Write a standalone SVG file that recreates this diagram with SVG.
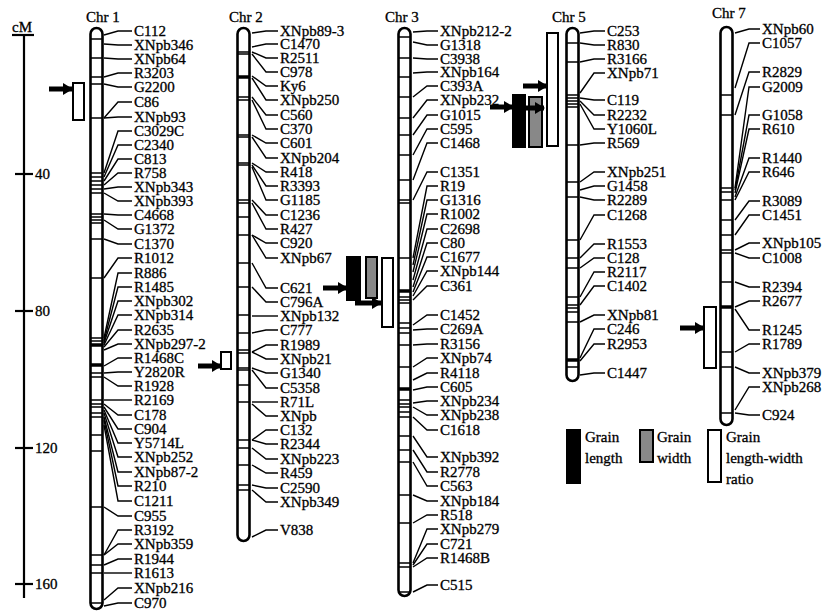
<svg xmlns="http://www.w3.org/2000/svg" width="830" height="612" viewBox="0 0 830 612">
<defs>
<style>
text{font-family:"Liberation Serif","Times New Roman",serif;font-size:15px;fill:#000;stroke:#000;stroke-width:0.3}
.chr{fill:#fff;stroke:#000;stroke-width:2.6}
.bd{stroke:#000;stroke-width:1.4}
.tk{stroke:#000;stroke-width:3.5}
.cn polyline{fill:none;stroke:#000;stroke-width:1.4}
.ar{stroke:#000;stroke-width:5;marker-end:url(#ah)}
.bw{fill:#fff;stroke:#000;stroke-width:2}
.bg{fill:#888;stroke:#000;stroke-width:2}
.bk{fill:#000;stroke:#000;stroke-width:2}
.ax{stroke:#000;stroke-width:2.2;fill:none}
</style>
<marker id="ah" markerUnits="userSpaceOnUse" markerWidth="10" markerHeight="12" refX="9" refY="6" orient="auto">
<path d="M0,0 L10,6 L0,12 Z" fill="#000"/>
</marker>
</defs>
<rect width="830" height="612" fill="#fff"/>

<g id="scale">
<text x="12" y="32">cM</text>
<line class="ax" x1="12" y1="35" x2="34" y2="35"/>
<line class="ax" x1="24" y1="35" x2="24" y2="598"/>
<line class="ax" x1="15" y1="174" x2="33" y2="174"/>
<line class="ax" x1="15" y1="311" x2="33" y2="311"/>
<line class="ax" x1="15" y1="448" x2="33" y2="448"/>
<line class="ax" x1="15" y1="584" x2="33" y2="584"/>
<text x="35" y="179">40</text>
<text x="35" y="316">80</text>
<text x="35" y="453">120</text>
<text x="35" y="589">160</text>
</g>

<g id="chr1">
<text x="86" y="22">Chr 1</text>
<rect class="chr" x="90.5" y="28" width="12" height="581" rx="6"/>
<path class="bd" d="M90,39H103M90,58H103M90,77H103M90,84H103M90,118H103M90,173H103M90,177H103M90,181H103M90,185H103M90,189H103M90,193H103M90,214H103M90,217H103M90,220H103M90,223H103M90,239H103M90,278H103M90,338H103M90,341H103M90,373H103M90,377H103M90,400H103M90,404H103M90,407H103M90,413H103M90,417H103M90,435H103M90,451H103M90,507H103M90,555H103M90,565H103M90,573H103M90,603H103"/>
<path class="tk" d="M90,345H103M90,365H103"/>
<text x="134" y="36">C112</text>
<text x="134" y="50">XNpb346</text>
<text x="134" y="64">XNpb64</text>
<text x="134" y="78">R3203</text>
<text x="134" y="92">G2200</text>
<text x="134" y="107">C86</text>
<text x="134" y="122">XNpb93</text>
<text x="134" y="136">C3029C</text>
<text x="134" y="150">C2340</text>
<text x="134" y="164">C813</text>
<text x="134" y="178">R758</text>
<text x="134" y="192">XNpb343</text>
<text x="134" y="206">XNpb393</text>
<text x="134" y="220">C4668</text>
<text x="134" y="234">G1372</text>
<text x="134" y="249">C1370</text>
<text x="134" y="263">R1012</text>
<text x="134" y="278">R886</text>
<text x="134" y="292">R1485</text>
<text x="134" y="306">XNpb302</text>
<text x="134" y="320">XNpb314</text>
<text x="134" y="335">R2635</text>
<text x="134" y="349">XNpb297-2</text>
<text x="134" y="363">R1468C</text>
<text x="134" y="377">Y2820R</text>
<text x="134" y="391">R1928</text>
<text x="134" y="405">R2169</text>
<text x="134" y="420">C178</text>
<text x="134" y="434">C904</text>
<text x="134" y="448">Y5714L</text>
<text x="134" y="462">XNpb252</text>
<text x="134" y="477">XNpb87-2</text>
<text x="134" y="491">R210</text>
<text x="134" y="506">C1211</text>
<text x="134" y="521">C955</text>
<text x="134" y="535">R3192</text>
<text x="134" y="549">XNpb359</text>
<text x="134" y="564">R1944</text>
<text x="134" y="578">R1613</text>
<text x="134" y="593">XNpb216</text>
<text x="134" y="608">C970</text>
</g>

<g id="chr2">
<text x="229" y="22">Chr 2</text>
<rect class="chr" x="237.5" y="28" width="12" height="513" rx="6"/>
<path class="bd" d="M237,52H250M237,54H250M237,97H250M237,100H250M237,135H250M237,137H250M237,163H250M237,165H250M237,200H250M237,203H250M237,217H250M237,235H250M237,263H250M237,287H250M237,315H250M237,333H250M237,350H250M237,353H250M237,368H250M237,370H250M237,385H250M237,402H250M237,440H250M237,448H250M237,465H250M237,485H250M237,490H250"/>
<path class="tk" d="M237,77H250"/>
<text x="280" y="36">XNpb89-3</text>
<text x="280" y="49">C1470</text>
<text x="280" y="63">R2511</text>
<text x="280" y="77">C978</text>
<text x="280" y="91">Ky6</text>
<text x="280" y="105">XNpb250</text>
<text x="280" y="120">C560</text>
<text x="280" y="134">C370</text>
<text x="280" y="148">C601</text>
<text x="280" y="163">XNpb204</text>
<text x="280" y="177">R418</text>
<text x="280" y="191">R3393</text>
<text x="280" y="205">G1185</text>
<text x="280" y="220">C1236</text>
<text x="280" y="234">R427</text>
<text x="280" y="248">C920</text>
<text x="280" y="263">XNpb67</text>
<text x="280" y="293">C621</text>
<text x="280" y="307">C796A</text>
<text x="280" y="321">XNpb132</text>
<text x="280" y="335">C777</text>
<text x="280" y="350">R1989</text>
<text x="280" y="364">XNpb21</text>
<text x="280" y="378">G1340</text>
<text x="280" y="393">C5358</text>
<text x="280" y="407">R71L</text>
<text x="280" y="421">XNpb</text>
<text x="280" y="435">C132</text>
<text x="280" y="449">R2344</text>
<text x="280" y="464">XNpb223</text>
<text x="280" y="478">R459</text>
<text x="280" y="493">C2590</text>
<text x="280" y="507">XNpb349</text>
<text x="280" y="535">V838</text>
</g>

<g id="chr3">
<text x="385" y="22">Chr 3</text>
<rect class="chr" x="398.5" y="28" width="12" height="568" rx="6"/>
<path class="bd" d="M398,37H411M398,58H411M398,77H411M398,97H411M398,118H411M398,135H411M398,155H411M398,180H411M398,200H411M398,203H411M398,258H411M398,297H411M398,300H411M398,303H411M398,323H411M398,328H411M398,333H411M398,345H411M398,367H411M398,400H411M398,404H411M398,407H411M398,412H411M398,417H411M398,436H411M398,450H411M398,462H411M398,495H411M398,523H411M398,563H411M398,567H411M398,592H411"/>
<path class="tk" d="M398,291H411M398,389H411"/>
<text x="440" y="36">XNpb212-2</text>
<text x="440" y="50">G1318</text>
<text x="440" y="64">C3938</text>
<text x="440" y="77">XNpb164</text>
<text x="440" y="91">C393A</text>
<text x="440" y="105">XNpb232</text>
<text x="440" y="120">G1015</text>
<text x="440" y="134">C595</text>
<text x="440" y="148">C1468</text>
<text x="440" y="177">C1351</text>
<text x="440" y="191">R19</text>
<text x="440" y="205">G1316</text>
<text x="440" y="219">R1002</text>
<text x="440" y="234">C2698</text>
<text x="440" y="248">C80</text>
<text x="440" y="262">C1677</text>
<text x="440" y="276">XNpb144</text>
<text x="440" y="291">C361</text>
<text x="440" y="320">C1452</text>
<text x="440" y="334">C269A</text>
<text x="440" y="349">R3156</text>
<text x="440" y="363">XNpb74</text>
<text x="440" y="378">R4118</text>
<text x="440" y="392">C605</text>
<text x="440" y="406">XNpb234</text>
<text x="440" y="420">XNpb238</text>
<text x="440" y="435">C1618</text>
<text x="440" y="462">XNpb392</text>
<text x="440" y="477">R2778</text>
<text x="440" y="491">C563</text>
<text x="440" y="506">XNpb184</text>
<text x="440" y="520">R518</text>
<text x="440" y="534">XNpb279</text>
<text x="440" y="549">C721</text>
<text x="440" y="563">R1468B</text>
<text x="440" y="590">C515</text>
</g>

<g id="chr5">
<text x="552" y="22">Chr 5</text>
<rect class="chr" x="566.5" y="28" width="12" height="353" rx="6"/>
<path class="bd" d="M566,43H579M566,62H579M566,95H579M566,98H579M566,101H579M566,104H579M566,107H579M566,145H579M566,182H579M566,197H579M566,240H579M566,258H579M566,268H579M566,297H579M566,305H579M566,308H579M566,312H579M566,322H579M566,367H579"/>
<path class="tk" d="M566,360H579"/>
<text x="607" y="36">C253</text>
<text x="607" y="50">R830</text>
<text x="607" y="64">R3166</text>
<text x="607" y="78">XNpb71</text>
<text x="607" y="105">C119</text>
<text x="607" y="120">R2232</text>
<text x="607" y="134">Y1060L</text>
<text x="607" y="148">R569</text>
<text x="607" y="177">XNpb251</text>
<text x="607" y="191">G1458</text>
<text x="607" y="205">R2289</text>
<text x="607" y="220">C1268</text>
<text x="607" y="249">R1553</text>
<text x="607" y="263">C128</text>
<text x="607" y="277">R2117</text>
<text x="607" y="291">C1402</text>
<text x="607" y="320">XNpb81</text>
<text x="607" y="334">C246</text>
<text x="607" y="349">R2953</text>
<text x="607" y="378">C1447</text>
</g>

<g id="chr7">
<text x="712" y="18">Chr 7</text>
<rect class="chr" x="720.5" y="27" width="12" height="398" rx="6"/>
<path class="bd" d="M720,95H733M720,115H733M720,188H733M720,192H733M720,200H733M720,220H733M720,235H733M720,250H733M720,253H733M720,282H733M720,352H733M720,367H733M720,413H733"/>
<path class="tk" d="M720,307H733"/>
<text x="762" y="34">XNpb60</text>
<text x="762" y="48">C1057</text>
<text x="762" y="77">R2829</text>
<text x="762" y="92">G2009</text>
<text x="762" y="120">G1058</text>
<text x="762" y="134">R610</text>
<text x="762" y="163">R1440</text>
<text x="762" y="177">R646</text>
<text x="762" y="206">R3089</text>
<text x="762" y="220">C1451</text>
<text x="762" y="248">XNpb105</text>
<text x="762" y="263">C1008</text>
<text x="762" y="292">R2394</text>
<text x="762" y="306">R2677</text>
<text x="762" y="335">R1245</text>
<text x="762" y="349">R1789</text>
<text x="762" y="378">XNpb379</text>
<text x="762" y="392">XNpb268</text>
<text x="762" y="420">C924</text>
</g>

<g id="connectors" class="cn">
<polyline points="104,35 118,31 132,31"/>
<polyline points="104,44 118,45 132,45"/>
<polyline points="104,58 118,59 132,59"/>
<polyline points="104,77 118,73 132,73"/>
<polyline points="104,84 118,87 132,87"/>
<polyline points="104,118 118,102 132,102"/>
<polyline points="104,118 118,117 132,117"/>
<polyline points="104,173 118,131 132,131"/>
<polyline points="104,177 118,145 132,145"/>
<polyline points="104,181 118,159 132,159"/>
<polyline points="104,185 118,173 132,173"/>
<polyline points="104,189 118,187 132,187"/>
<polyline points="104,193 118,201 132,201"/>
<polyline points="104,214 118,215 132,215"/>
<polyline points="104,220 118,229 132,229"/>
<polyline points="104,239 118,244 132,244"/>
<polyline points="104,278 118,258 132,258"/>
<polyline points="104,338 118,273 132,273"/>
<polyline points="104,341 118,287 132,287"/>
<polyline points="104,343 118,301 132,301"/>
<polyline points="104,345 118,315 132,315"/>
<polyline points="104,347 118,330 132,330"/>
<polyline points="104,350 118,344 132,344"/>
<polyline points="104,366 118,358 132,358"/>
<polyline points="104,373 118,372 132,372"/>
<polyline points="104,377 118,386 132,386"/>
<polyline points="104,400 118,400 132,400"/>
<polyline points="104,404 118,415 132,415"/>
<polyline points="104,407 118,429 132,429"/>
<polyline points="104,410 118,443 132,443"/>
<polyline points="104,413 118,457 132,457"/>
<polyline points="104,417 118,472 132,472"/>
<polyline points="104,420 118,486 132,486"/>
<polyline points="104,425 118,501 132,501"/>
<polyline points="104,507 118,516 132,516"/>
<polyline points="104,555 118,530 132,530"/>
<polyline points="104,555 118,544 132,544"/>
<polyline points="104,565 118,559 132,559"/>
<polyline points="104,573 118,573 132,573"/>
<polyline points="104,600 118,588 132,588"/>
<polyline points="104,606 118,603 132,603"/>

<polyline points="252,33 266,31 278,31"/>
<polyline points="252,47 266,44 278,44"/>
<polyline points="252,52 266,58 278,58"/>
<polyline points="252,54 266,72 278,72"/>
<polyline points="252,76 266,86 278,86"/>
<polyline points="252,78 266,100 278,100"/>
<polyline points="252,97 266,115 278,115"/>
<polyline points="252,100 266,129 278,129"/>
<polyline points="252,135 266,143 278,143"/>
<polyline points="252,137 266,158 278,158"/>
<polyline points="252,163 266,172 278,172"/>
<polyline points="252,165 266,186 278,186"/>
<polyline points="252,167 266,200 278,200"/>
<polyline points="252,200 266,215 278,215"/>
<polyline points="252,203 266,229 278,229"/>
<polyline points="252,235 266,243 278,243"/>
<polyline points="252,235 266,258 278,258"/>
<polyline points="252,263 266,288 278,288"/>
<polyline points="252,287 266,302 278,302"/>
<polyline points="252,316 266,316 278,316"/>
<polyline points="252,333 266,330 278,330"/>
<polyline points="252,352 266,345 278,345"/>
<polyline points="252,352 266,359 278,359"/>
<polyline points="252,368 266,373 278,373"/>
<polyline points="252,370 266,388 278,388"/>
<polyline points="252,402 266,402 278,402"/>
<polyline points="252,404 266,416 278,416"/>
<polyline points="252,440 266,430 278,430"/>
<polyline points="252,440 266,444 278,444"/>
<polyline points="252,448 266,459 278,459"/>
<polyline points="252,465 266,473 278,473"/>
<polyline points="252,485 266,488 278,488"/>
<polyline points="252,490 266,502 278,502"/>
<polyline points="252,537 266,530 278,530"/>

<polyline points="413,32 427,31 438,31"/>
<polyline points="413,42 427,45 438,45"/>
<polyline points="413,58 427,59 438,59"/>
<polyline points="413,73 427,72 438,72"/>
<polyline points="413,97 427,86 438,86"/>
<polyline points="413,118 427,100 438,100"/>
<polyline points="413,135 427,115 438,115"/>
<polyline points="413,155 427,129 438,129"/>
<polyline points="413,180 427,143 438,143"/>
<polyline points="413,200 427,172 438,172"/>
<polyline points="413,258 427,186 438,186"/>
<polyline points="413,265 427,200 438,200"/>
<polyline points="413,272 427,214 438,214"/>
<polyline points="413,280 427,229 438,229"/>
<polyline points="413,287 427,243 438,243"/>
<polyline points="413,292 427,257 438,257"/>
<polyline points="413,296 427,271 438,271"/>
<polyline points="413,300 427,286 438,286"/>
<polyline points="413,325 427,315 438,315"/>
<polyline points="413,330 427,329 438,329"/>
<polyline points="413,345 427,344 438,344"/>
<polyline points="413,367 427,358 438,358"/>
<polyline points="413,380 427,373 438,373"/>
<polyline points="413,390 427,387 438,387"/>
<polyline points="413,403 427,401 438,401"/>
<polyline points="413,407 427,415 438,415"/>
<polyline points="413,417 427,430 438,430"/>
<polyline points="413,436 427,457 438,457"/>
<polyline points="413,450 427,472 438,472"/>
<polyline points="413,462 427,486 438,486"/>
<polyline points="413,495 427,501 438,501"/>
<polyline points="413,523 427,515 438,515"/>
<polyline points="413,563 427,529 438,529"/>
<polyline points="413,565 427,544 438,544"/>
<polyline points="413,567 427,558 438,558"/>
<polyline points="413,592 427,585 438,585"/>

<polyline points="580,33 594,31 605,31"/>
<polyline points="580,43 594,45 605,45"/>
<polyline points="580,62 594,59 605,59"/>
<polyline points="580,93 594,73 605,73"/>
<polyline points="580,98 594,100 605,100"/>
<polyline points="580,101 594,115 605,115"/>
<polyline points="580,104 594,129 605,129"/>
<polyline points="580,145 594,143 605,143"/>
<polyline points="580,182 594,172 605,172"/>
<polyline points="580,190 594,186 605,186"/>
<polyline points="580,197 594,200 605,200"/>
<polyline points="580,240 594,215 605,215"/>
<polyline points="580,258 594,244 605,244"/>
<polyline points="580,268 594,258 605,258"/>
<polyline points="580,297 594,272 605,272"/>
<polyline points="580,305 594,286 605,286"/>
<polyline points="580,322 594,315 605,315"/>
<polyline points="580,358 594,329 605,329"/>
<polyline points="580,361 594,344 605,344"/>
<polyline points="580,375 594,373 605,373"/>

<polyline points="735,33 749,29 760,29"/>
<polyline points="735,88 749,43 760,43"/>
<polyline points="735,115 749,72 760,72"/>
<polyline points="735,188 749,87 760,87"/>
<polyline points="735,190 749,115 760,115"/>
<polyline points="735,193 749,129 760,129"/>
<polyline points="735,197 749,158 760,158"/>
<polyline points="735,200 749,172 760,172"/>
<polyline points="735,220 749,201 760,201"/>
<polyline points="735,235 749,215 760,215"/>
<polyline points="735,250 749,243 760,243"/>
<polyline points="735,253 749,258 760,258"/>
<polyline points="735,282 749,287 760,287"/>
<polyline points="735,307 749,301 760,301"/>
<polyline points="735,309 749,330 760,330"/>
<polyline points="735,352 749,344 760,344"/>
<polyline points="735,367 749,373 760,373"/>
<polyline points="735,410 749,387 760,387"/>
<polyline points="735,413 749,415 760,415"/>
</g>

<g id="qtl">
<rect class="bw" x="73" y="83" width="11" height="37"/>
<line class="ar" x1="49" y1="89" x2="72" y2="89"/>
<rect class="bw" x="221" y="352" width="10" height="17"/>
<line class="ar" x1="198" y1="366" x2="221" y2="366"/>
<rect class="bk" x="347" y="257" width="13" height="43"/>
<rect class="bg" x="366" y="257" width="11" height="41"/>
<rect class="bw" x="382" y="258" width="11" height="69"/>
<line class="ar" x1="323" y1="288" x2="347" y2="288"/>
<line class="ar" x1="355" y1="303" x2="381" y2="303"/>
<rect class="bk" x="513" y="95" width="12" height="52"/>
<rect class="bg" x="529" y="97" width="13" height="50"/>
<rect class="bw" x="547" y="33" width="11" height="113"/>
<line class="ar" x1="490" y1="107" x2="513" y2="107"/>
<line class="ar" x1="525" y1="108" x2="544" y2="108"/>
<line class="ar" x1="523" y1="86" x2="547" y2="86"/>
<rect class="bw" x="704" y="307" width="12" height="61"/>
<line class="ar" x1="680" y1="328" x2="704" y2="328"/>
</g>

<g id="legend">
<rect class="bk" x="567" y="430" width="13" height="53"/>
<text x="585" y="442">Grain</text>
<text x="585" y="463">length</text>
<rect class="bg" x="640" y="430" width="13" height="32"/>
<text x="657" y="442">Grain</text>
<text x="657" y="463">width</text>
<rect class="bw" x="708" y="430" width="13" height="52"/>
<text x="726" y="442">Grain</text>
<text x="726" y="463">length-width</text>
<text x="726" y="484">ratio</text>
</g>
</svg>
